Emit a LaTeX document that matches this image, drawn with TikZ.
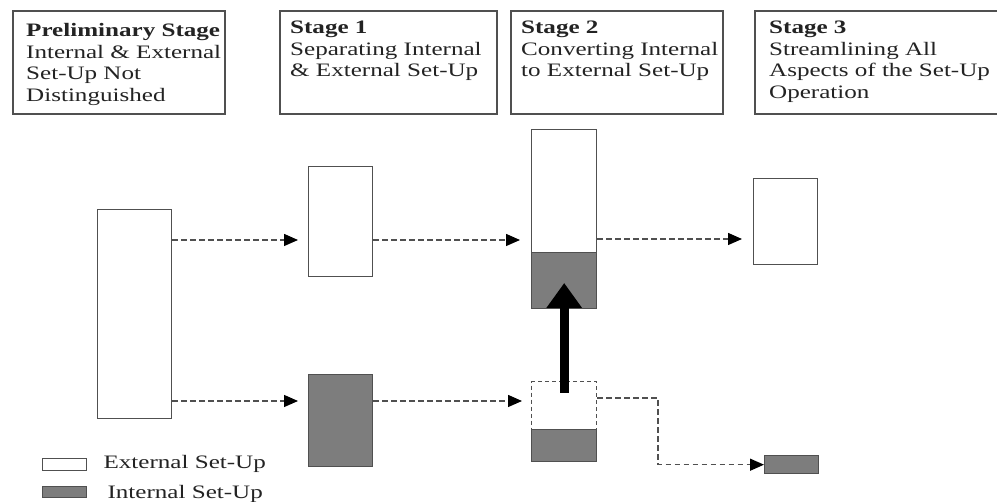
\documentclass[tikz,border=0pt]{standalone}
\usepackage{fontspec}
\setmainfont{Liberation Serif}[FakeStretch=1.32]
\usetikzlibrary{arrows.meta}
\definecolor{boxgray}{RGB}{125,125,125}
\definecolor{edgegray}{RGB}{80,80,80}
\definecolor{txt}{RGB}{35,35,35}
\begin{document}
\begin{tikzpicture}[x=1pt,y=-1pt,
 hdr/.style={draw=edgegray, line width=1.8pt, fill=white, anchor=north west, inner sep=0pt},
 htext/.style={anchor=north west, inner sep=0pt, align=left, text=txt, font=\fontsize{19}{21.8}\selectfont},
 blk/.style={draw=edgegray, line width=1.4pt, anchor=north west, inner sep=0pt},
 ext/.style={blk, fill=white},
 intl/.style={blk, fill=boxgray},
 flow/.style={draw=edgegray, line width=1.4pt, dash pattern=on 5.5pt off 3.5pt, -{Triangle[length=14pt,width=12pt,fill=black,color=black]}},
 lgtext/.style={anchor=base west, inner sep=0pt, text=txt, font=\fontsize{19}{21.8}\selectfont},
]
\useasboundingbox (0,0) rectangle (997,502);

% header boxes
\node[hdr, minimum width=212pt, minimum height=103pt] (h1) at (12,10) {};
\node[hdr, minimum width=217pt, minimum height=103pt] (h2) at (279,10) {};
\node[hdr, minimum width=212pt, minimum height=103pt] (h3) at (510,10) {};
\node[hdr, minimum width=260pt, minimum height=103pt] (h4) at (754,10) {};
\node[htext] (t1) at ([xshift=14pt,yshift=-13pt]h1.north west) {\textbf{Preliminary Stage}\\Internal \& External\\Set-Up Not\\Distinguished};
\node[htext] (t2) at ([xshift=11pt,yshift=-10.5pt]h2.north west) {\textbf{Stage 1}\\Separating Internal\\\& External Set-Up};
\node[htext] (t3) at ([xshift=11pt,yshift=-10.5pt]h3.north west) {\textbf{Stage 2}\\Converting Internal\\to External Set-Up};
\node[htext] (t4) at ([xshift=15pt,yshift=-10.5pt]h4.north west) {\textbf{Stage 3}\\Streamlining All\\Aspects of the Set-Up\\Operation};

% blocks
\node[ext, minimum width=74pt, minimum height=209pt] (p) at (97,209) {};
\node[ext, minimum width=64pt, minimum height=110pt] (s1e) at (308,166) {};
\node[intl, minimum width=64pt, minimum height=92pt] (s1i) at (308,374) {};
\node[ext, minimum width=65pt, minimum height=123pt] (s2e) at (531,129) {};
\node[intl, minimum width=65pt, minimum height=56pt] (s2i) at (531,252) {};
\node[blk, dash pattern=on 4pt off 3pt, fill=white, minimum width=65pt, minimum height=48pt] (s2d) at (531,381) {};
\node[intl, minimum width=65pt, minimum height=32pt] (s2b) at (531,429) {};
\node[ext, minimum width=64pt, minimum height=86pt] (s3e) at (753,178) {};
\node[intl, minimum width=54pt, minimum height=18pt] (s3i) at (764,455) {};

% connectors
\coordinate (a1) at ([yshift=-31pt]p.north east);
\coordinate (a2) at ([yshift=-74pt]s1e.north east);
\coordinate (a3) at ([yshift=-110pt]s2e.north east);
\coordinate (b1) at ([yshift=-192pt]p.north east);
\coordinate (b2) at ([yshift=-27pt]s1i.north east);
\coordinate (b3) at ([yshift=-17pt]s2d.north east);
\coordinate (k) at (658,398);
\draw[flow, shorten >=10pt] (a1) -- (a1 -| s1e.west);
\draw[flow, shorten >=11pt] (a2) -- (a2 -| s2e.west);
\draw[flow, shorten >=11pt] (a3) -- (a3 -| s3e.west);
\draw[flow, shorten >=10pt] (b1) -- (b1 -| s1i.west);
\draw[flow, shorten >=9pt] (b2) -- (b2 -| s2d.west);
\draw[flow] (b3) -- (k) |- (s3i.west);

% thick arrow
\draw[line width=9pt, -{Triangle[length=25pt,width=34pt]}] ([yshift=-12pt]s2d.north) -- ([yshift=-31pt]s2i.north);

% legend
\node[ext, minimum width=44pt, minimum height=12pt] (l1) at (42,458) {};
\node[intl, minimum width=44pt, minimum height=11pt] (l2) at (42,486) {};
\node[lgtext] (lt1) at ([xshift=16pt,yshift=-4pt]l1.east) {External Set-Up};
\node[lgtext] (lt2) at ([xshift=20pt,yshift=-6.5pt]l2.east) {Internal Set-Up};
\end{tikzpicture}
\end{document}
